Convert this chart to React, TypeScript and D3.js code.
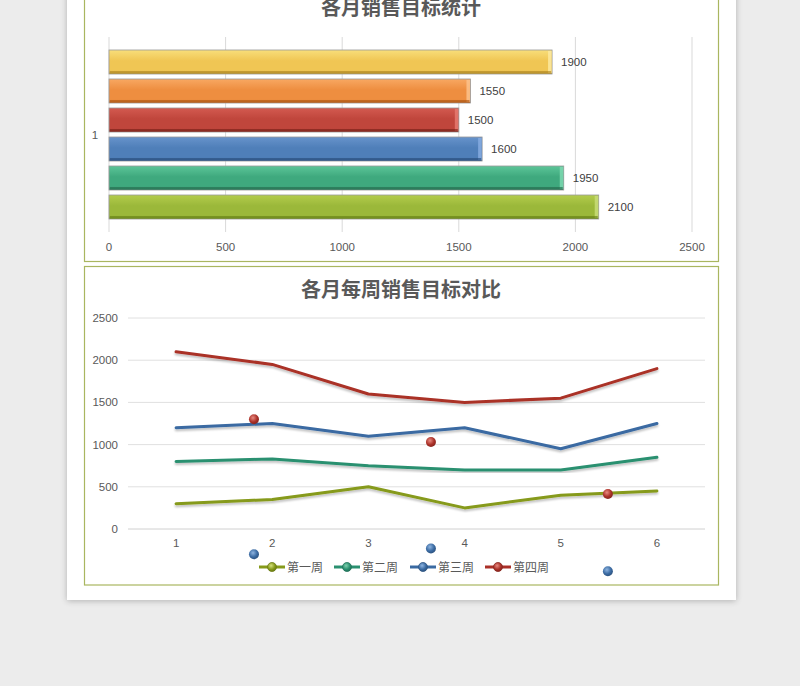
import React from "react";
import * as d3 from "d3";

const months = [1, 2, 3, 4, 5, 6];
const monthTargets = [2100, 1950, 1600, 1500, 1550, 1900];
const barCategory = ["1"];
const barTicks = [0, 500, 1000, 1500, 2000, 2500];

const weekNames = ["第一周", "第二周", "第三周", "第四周"];
const week1 = [300, 350, 500, 250, 400, 450];
const week2 = [800, 830, 750, 700, 700, 850];
const week3 = [1200, 1250, 1100, 1200, 950, 1250];
const week4 = [2100, 1950, 1600, 1500, 1550, 1900];
const lineTicks = [0, 500, 1000, 1500, 2000, 2500];

const strayRedX = [1.81, 3.65, 5.49];
const strayRedY = [1300, 1030, 415];
const strayBlueX = [1.81, 3.65, 5.49];
const strayBlueY = [-300, -230, -500];

const barColors = [
  { top: "#b3cc4c", mid: "#9bb83a", bot: "#6f8a1c", end: "#c8dc78" },
  { top: "#5cc598", mid: "#3fa97e", bot: "#2a7657", end: "#7dd8b0" },
  { top: "#6793cb", mid: "#4f7fb9", bot: "#2f5686", end: "#86ace0" },
  { top: "#d35a50", mid: "#c0463c", bot: "#852820", end: "#e57a70" },
  { top: "#f8a862", mid: "#ee8e40", bot: "#b65e1a", end: "#fbc28c" },
  { top: "#f8de7a", mid: "#f0c654", bot: "#b8902a", end: "#fbe9a0" },
];
const lineColors = ["#869a1a", "#2a9070", "#3a6aa2", "#aa3028"];
const markerLight = ["#d4e07a", "#7fd0ae", "#8eb4e0", "#e88a80"];

const FONT = "'Liberation Sans', Arial, 'Noto Sans CJK SC', sans-serif";
const CJK = "'Noto Sans CJK SC', 'Liberation Sans', sans-serif";
const TXT = "#595959";

export default function App() {
  // bar chart scales
  const bx = d3.scaleLinear().domain([0, 2500]).range([109, 692]);
  const catY = d3.scaleBand().domain(barCategory).range([232, 37]);
  const seriesY = d3
    .scaleBand<number>()
    .domain(months)
    .range([catY("1")! + catY.bandwidth(), catY("1")!])
    .paddingInner(0.172)
    .paddingOuter(0.448);

  // line chart scales
  const lx = d3.scaleLinear().domain([0.5, 6.5]).range([128, 705]);
  const ly = d3.scaleLinear().domain([0, 2500]).range([529, 318]);
  const series = [week1, week2, week3, week4];
  const line = d3
    .line<number>()
    .x((_, i) => lx(months[i]))
    .y((d) => ly(d));

  const legendX = [259, 334, 410, 485];

  return (
    <svg
      width={800}
      height={686}
      style={{ position: "absolute", left: 0, top: 0 }}
      xmlns="http://www.w3.org/2000/svg"
    >
      <defs>
        <filter id="shadow" x="-10%" y="-10%" width="120%" height="120%">
          <feGaussianBlur in="SourceAlpha" stdDeviation="3" />
          <feOffset dx="0" dy="1" result="b" />
          <feComponentTransfer>
            <feFuncA type="linear" slope="0.25" />
          </feComponentTransfer>
          <feMerge>
            <feMergeNode />
            <feMergeNode in="SourceGraphic" />
          </feMerge>
        </filter>
        <filter id="lshadow" x="-10%" y="-20%" width="120%" height="140%">
          <feGaussianBlur in="SourceAlpha" stdDeviation="1" />
          <feOffset dx="0" dy="1.5" result="b" />
          <feComponentTransfer>
            <feFuncA type="linear" slope="0.25" />
          </feComponentTransfer>
          <feMerge>
            <feMergeNode />
            <feMergeNode in="SourceGraphic" />
          </feMerge>
        </filter>
        {barColors.map((c, i) => (
          <linearGradient key={i} id={`bg${i}`} x1="0" y1="0" x2="0" y2="1">
            <stop offset="0" stopColor={c.top} />
            <stop offset="0.45" stopColor={c.mid} />
            <stop offset="0.85" stopColor={c.mid} />
            <stop offset="1" stopColor={c.bot} />
          </linearGradient>
        ))}
        {lineColors.map((c, i) => (
          <radialGradient key={i} id={`mg${i}`} cx="0.4" cy="0.35" r="0.7">
            <stop offset="0" stopColor={markerLight[i]} />
            <stop offset="0.6" stopColor={c} />
            <stop offset="1" stopColor={d3.color(c)!.darker(0.8).toString()} />
          </radialGradient>
        ))}
      </defs>

      <rect x={0} y={0} width={800} height={686} fill="#ececec" />
      <rect x={67} y={-10} width={669} height={610} fill="#ffffff" filter="url(#shadow)" />

      {/* top chart box */}
      <rect x={84.5} y={-5} width={634} height={266.5} fill="#fff" stroke="#a9b660" strokeWidth={1.2} />
      <text x={401} y={15} textAnchor="middle" fontFamily={CJK} fontSize={20} fontWeight="bold" fill={TXT}>
        各月销售目标统计
      </text>
      {barTicks.map((t) => (
        <g key={t}>
          <line x1={bx(t)} x2={bx(t)} y1={37} y2={232} stroke="#d9d9d9" strokeWidth={1} />
          <text x={bx(t)} y={251} textAnchor="middle" fontFamily={FONT} fontSize={11.5} fill={TXT}>
            {t}
          </text>
        </g>
      ))}
      <text x={95} y={139} textAnchor="middle" fontFamily={FONT} fontSize={11.5} fill={TXT}>
        {barCategory[0]}
      </text>
      {monthTargets.map((v, i) => {
        const y = seriesY(months[i])!;
        const h = seriesY.bandwidth();
        const x0 = bx(0);
        const x1 = bx(v);
        const c = barColors[i];
        return (
          <g key={i}>
            <rect x={x0} y={y} width={x1 - x0} height={h} fill={`url(#bg${i})`} stroke="#9a9a9a" strokeWidth={0.8} />
            <rect x={x1 - 4} y={y + 1} width={3.5} height={h - 2} fill={c.end} opacity={0.85} />
            <rect x={x0 + 1} y={y + h - 3} width={x1 - x0 - 2} height={2.5} fill={c.bot} opacity={0.7} />
            <text x={x1 + 9} y={y + h / 2 + 4} fontFamily={FONT} fontSize={11.5} fill="#404040">
              {v}
            </text>
          </g>
        );
      })}

      {/* bottom chart box */}
      <rect x={84.5} y={266.5} width={634} height={318.5} fill="#fff" stroke="#a9b660" strokeWidth={1.2} />
      <text x={401} y={297} textAnchor="middle" fontFamily={CJK} fontSize={20} fontWeight="bold" fill={TXT}>
        各月每周销售目标对比
      </text>
      {lineTicks.map((t) => (
        <g key={t}>
          <line x1={128} x2={705} y1={ly(t)} y2={ly(t)} stroke={t === 0 ? "#d0d0d0" : "#e0e0e0"} strokeWidth={1} />
          <text x={118} y={ly(t) + 4} textAnchor="end" fontFamily={FONT} fontSize={11.5} fill={TXT}>
            {t}
          </text>
        </g>
      ))}
      {months.map((m) => (
        <text key={m} x={lx(m)} y={547} textAnchor="middle" fontFamily={FONT} fontSize={11.5} fill={TXT}>
          {m}
        </text>
      ))}
      {series.map((s, i) => (
        <path
          key={i}
          d={line(s)!}
          fill="none"
          stroke={lineColors[i]}
          strokeWidth={3}
          strokeLinejoin="round"
          strokeLinecap="round"
          filter="url(#lshadow)"
        />
      ))}
      {strayRedX.map((x, i) => (
        <circle key={`r${i}`} cx={lx(x)} cy={ly(strayRedY[i])} r={5} fill="url(#mg3)" />
      ))}
      {strayBlueX.map((x, i) => (
        <circle key={`b${i}`} cx={lx(x)} cy={ly(strayBlueY[i])} r={5} fill="url(#mg2)" />
      ))}

      {/* legend */}
      {weekNames.map((n, i) => (
        <g key={n}>
          <line x1={legendX[i]} x2={legendX[i] + 26} y1={567} y2={567} stroke={lineColors[i]} strokeWidth={3} />
          <circle cx={legendX[i] + 13} cy={567} r={4.5} fill={`url(#mg${i})`} stroke={d3.color(lineColors[i])!.darker(0.6).toString()} strokeWidth={0.8} />
          <text x={legendX[i] + 28} y={571.5} fontFamily={CJK} fontSize={12} fill={TXT}>
            {n}
          </text>
        </g>
      ))}
    </svg>
  );
}
